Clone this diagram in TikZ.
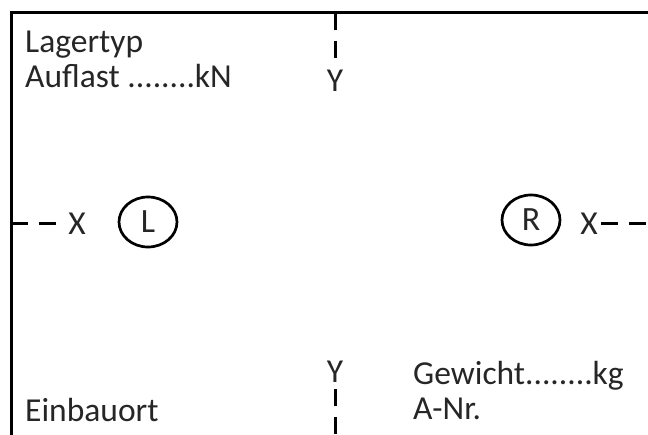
\documentclass[tikz,border=0pt]{standalone}
\usepackage{fontspec}
\setmainfont{Carlito}
\usetikzlibrary{shapes.geometric}

\begin{document}
\begin{tikzpicture}[x=1pt,y=-1pt,
  txt/.style={inner sep=0pt,anchor=base west,font=\fontsize{33.5}{38}\selectfont,text=black!85},
  achs/.style={inner sep=3pt,font=\fontsize{33.5}{38}\selectfont,text=black!85},
  achse/.style={line width=3pt,dash pattern=on 17pt off 11pt},
  lager/.style={draw,ellipse,line width=2.7pt,minimum width=58pt,minimum height=50pt,inner sep=0pt,font=\fontsize{34}{36}\selectfont,text=black!85}]
\useasboundingbox (0,0) rectangle (648,435);
\draw[line width=3pt] (11,437) -- (11,13) -- (650,13);
\coordinate (yob) at (335,13);
\coordinate (yun) at (335,437);
\coordinate (xli) at (11,224);
\coordinate (xre) at (650,224);
\node[txt] (typ) at (25,53) {Lagertyp};
\node[txt] (last) at (25,88) {Auflast ........kN};
\node[txt] (ort) at (25,421) {Einbauort};
\node[txt] (gew) at (413,385) {Gewicht........kg};
\node[txt] (anr) at (413,420) {A-Nr.};
\node[achs] (yo) at (335,81) {Y};
\node[achs,inner sep=6pt] (yu) at (335,372) {Y};
\node[achs] (xl) at (77,224) {X};
\node[achs] (xr) at (589,224) {X};
\node[lager] (l) at (148,222) {L};
\node[lager] (r) at (531,220) {R};
\draw[achse] (yob) -- (yo.north);
\draw[achse] (yu.south) -- (yun);
\draw[achse] (xli) -- (xl.west);
\draw[achse] (xr.east) -- (xre);
\end{tikzpicture}
\end{document}
